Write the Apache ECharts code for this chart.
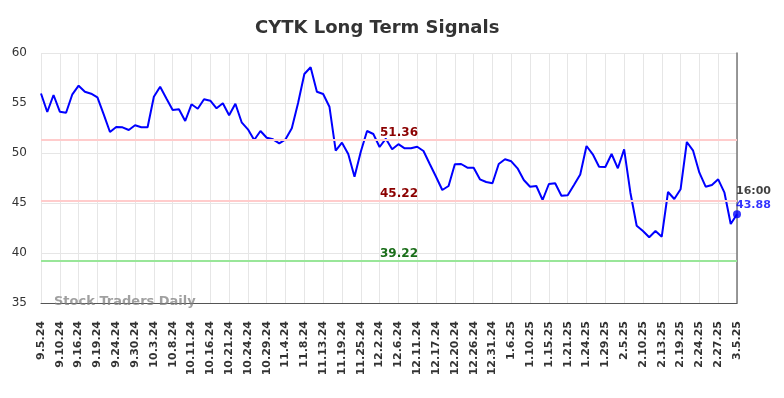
<!DOCTYPE html>
<html>
<head>
<meta charset="utf-8">
<title>CYTK Long Term Signals</title>
<script src="https://cdn.jsdelivr.net/npm/echarts@6/dist/echarts.min.js"></script>
<style>
    html, body { margin: 0; padding: 0; background: #fff; }
    #chart { width: 784px; height: 398px; }
</style>
</head>
<body>
<div id="chart"></div>
<script>
// tick labels, one every 3 trading points
const tickLabels = [
    '9.5.24', '9.10.24', '9.16.24', '9.19.24', '9.24.24', '9.30.24', '10.3.24', '10.8.24',
    '10.11.24', '10.16.24', '10.21.24', '10.24.24', '10.29.24', '11.4.24', '11.8.24', '11.13.24',
    '11.19.24', '11.25.24', '12.2.24', '12.6.24', '12.11.24', '12.17.24', '12.20.24', '12.26.24',
    '12.31.24', '1.6.25', '1.10.25', '1.15.25', '1.21.25', '1.24.25', '1.29.25', '2.5.25',
    '2.10.25', '2.13.25', '2.19.25', '2.24.25', '2.27.25', '3.5.25'
];

// closing prices
const prices = [
    55.95, 54.10, 55.80, 54.13, 54.03, 55.87, 56.73, 56.13, 55.93, 55.57,
    53.87, 52.10, 52.60, 52.57, 52.30, 52.77, 52.57, 52.57, 55.63, 56.63,
    55.45, 54.30, 54.37, 53.20, 54.87, 54.43, 55.37, 55.23, 54.47, 54.97,
    53.77, 54.93, 53.07, 52.37, 51.30, 52.20, 51.53, 51.37, 50.97, 51.37,
    52.47, 55.00, 57.90, 58.57, 56.13, 55.90, 54.63, 50.23, 51.03, 49.90,
    47.63, 50.13, 52.20, 51.90, 50.60, 51.43, 50.38, 50.88, 50.47, 50.47,
    50.63, 50.20, 48.90, 47.63, 46.30, 46.70, 48.87, 48.90, 48.53, 48.53,
    47.37, 47.10, 46.97, 48.90, 49.37, 49.17, 48.47, 47.30, 46.63, 46.70,
    45.30, 46.90, 46.97, 45.73, 45.77, 46.80, 47.85, 50.70, 49.87, 48.63,
    48.60, 49.90, 48.47, 50.37, 46.03, 42.73, 42.20, 41.57, 42.20, 41.63,
    46.10, 45.40, 46.37, 51.10, 50.23, 48.03, 46.63, 46.80, 47.37, 46.03,
    42.90, 43.88
];

// signal levels
const upperSignal = 51.36;
const middleSignal = 45.22;
const lowerSignal = 39.22;
const lastTime = '16:00';

const FONT = 'DejaVu Sans';
const step = 3;
const lastIdx = prices.length - 1;

const chart = echarts.init(document.getElementById('chart'), null, { renderer: 'canvas' });

const option = {
    backgroundColor: '#fff',
    animation: false,
    title: {
        text: 'CYTK Long Term Signals',
        left: 250,
        top: 14,
        textStyle: {
            fontFamily: FONT,
            fontSize: 18,
            fontWeight: 'bold',
            color: '#333'
        }
    },
    grid: {
        left: 41,
        right: 47,
        top: 53,
        bottom: 95,
        containLabel: false,
        outerBoundsMode: 'none'
    },
    xAxis: {
        type: 'value',
        min: 0,
        max: lastIdx,
        interval: step,
        axisLine: { show: true, onZero: false, lineStyle: { color: '#555', width: 1 } },
        axisTick: { show: false },
        axisLabel: {
            rotate: 90,
            margin: 18,
            fontFamily: FONT,
            fontSize: 11,
            fontWeight: 'bold',
            color: '#333',
            formatter: v => tickLabels[Math.round(v / step)] || ''
        },
        splitLine: { show: true, lineStyle: { color: '#e6e6e6', width: 1 } }
    },
    yAxis: [{
        type: 'value',
        min: 35,
        max: 60,
        interval: 5,
        axisLine: { show: false },
        axisTick: { show: false },
        axisLabel: {
            margin: 14,
            fontFamily: FONT,
            fontSize: 12,
            color: '#333'
        },
        splitLine: { show: true, lineStyle: { color: '#e6e6e6', width: 1 } }
    }, {
        type: 'value',
        position: 'right',
        min: 35,
        max: 60,
        interval: 5,
        axisLine: { show: true, lineStyle: { color: '#777', width: 1.5 } },
        axisTick: { show: false },
        axisLabel: { show: false },
        splitLine: { show: false }
    }],
    graphic: [{
        type: 'text',
        left: 54,
        top: 295,
        z: 100,
        style: {
            text: 'Stock Traders Daily',
            fontFamily: FONT,
            fontSize: 13,
            fontWeight: 'bold',
            fill: 'rgba(128,128,128,0.75)'
        }
    }],
    series: [{
        name: 'CYTK',
        type: 'line',
        data: prices.map((p, i) => [i, p]),
        symbol: 'none',
        lineStyle: { color: '#0000ff', width: 2 },
        markLine: {
            silent: true,
            symbol: 'none',
            data: [
                { yAxis: upperSignal, lineStyle: { color: '#ffcccc', width: 2, type: 'solid' },
                  label: { color: '#8b0000' } },
                { yAxis: middleSignal, lineStyle: { color: '#ffcccc', width: 2, type: 'solid' },
                  label: { color: '#8b0000' } },
                { yAxis: lowerSignal, lineStyle: { color: '#99e699', width: 2, type: 'solid' },
                  label: { color: '#1a6e1a' } }
            ],
            label: {
                position: 'insideMiddleTop',
                distance: 1,
                padding: [0, 0, 0, 20],
                fontFamily: FONT,
                fontSize: 12,
                fontWeight: 'bold',
                formatter: p => p.value.toFixed(2)
            }
        }
    }, {
        name: 'last',
        type: 'scatter',
        data: [[lastIdx, prices[lastIdx]]],
        symbol: 'circle',
        symbolSize: 8,
        itemStyle: { color: '#0000ff' },
        label: {
            show: true,
            position: 'top',
            align: 'left',
            distance: 1,
            offset: [-1, 3],
            formatter: p => '{t|' + lastTime + '}\n{v|' + p.value[1].toFixed(2) + '}',
            rich: {
                t: { fontFamily: FONT, fontSize: 11, fontWeight: 'bold', color: '#111', lineHeight: 14 },
                v: { fontFamily: FONT, fontSize: 11, fontWeight: 'bold', color: '#0000ff', lineHeight: 14 }
            }
        }
    }]
};

chart.setOption(option);
</script>
</body>
</html>
